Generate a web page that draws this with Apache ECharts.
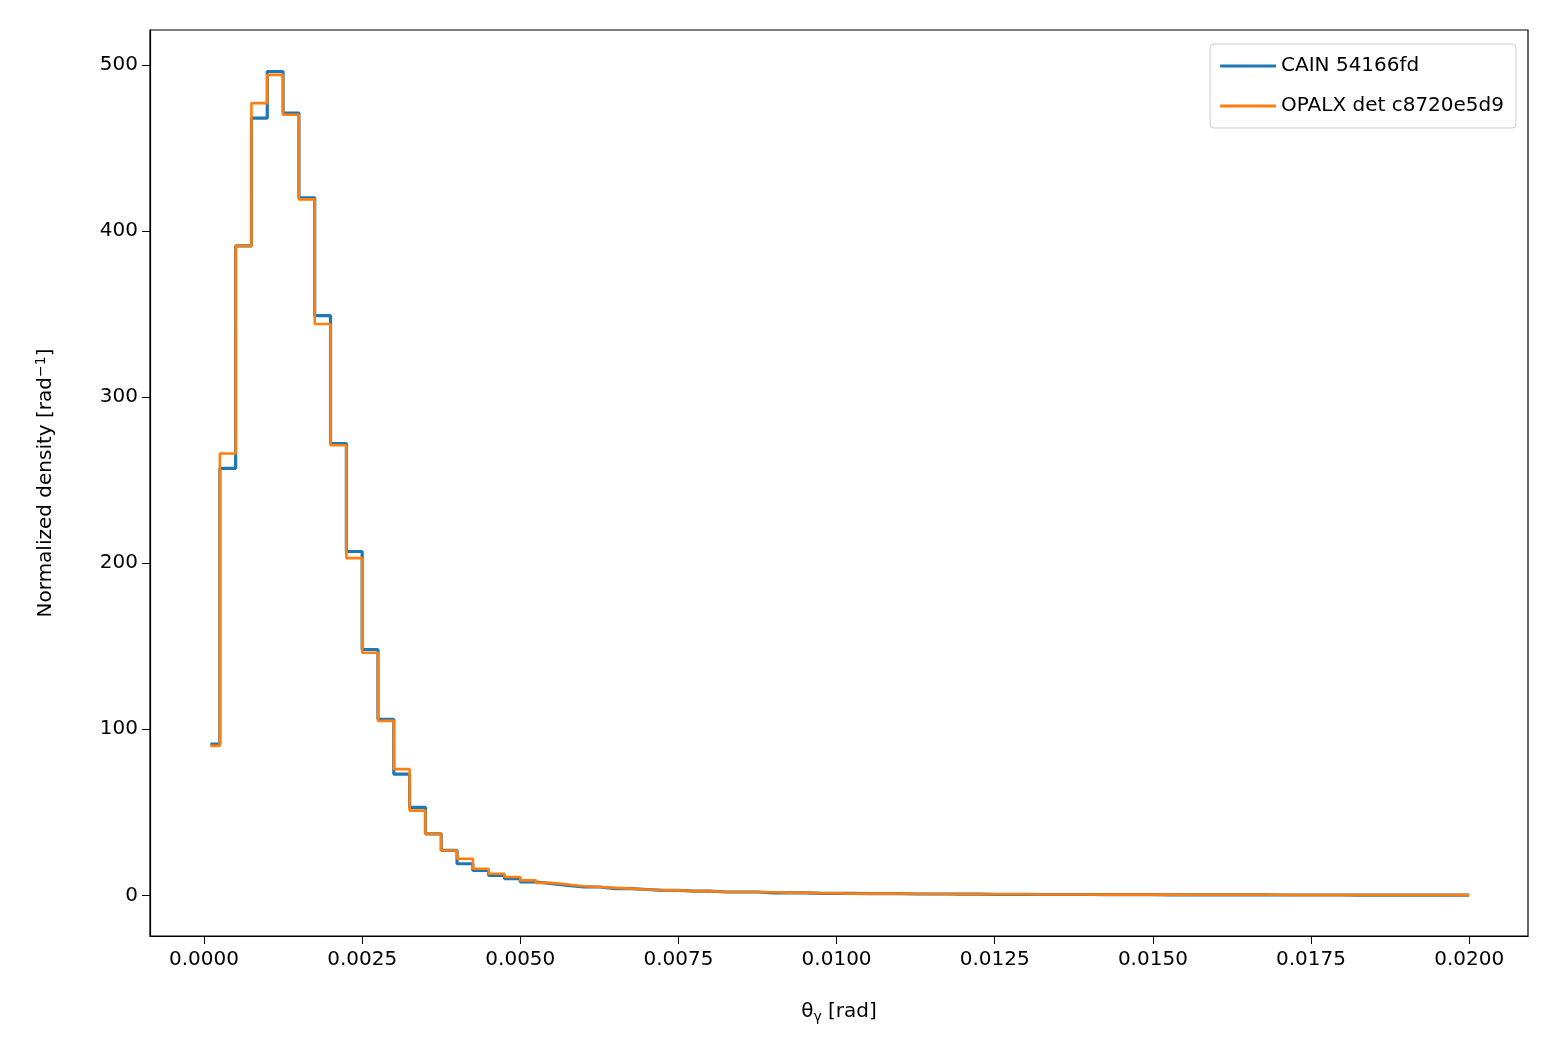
<!DOCTYPE html>
<html><head><meta charset="utf-8">
<script src="https://cdn.jsdelivr.net/npm/echarts@6/dist/echarts.min.js"></script>
<style>html,body{margin:0;padding:0;background:#fff}#c{width:1560px;height:1060px}</style>
</head><body><div id="c"></div>
<script>
const firstEdge = 0.0001;
const binWidth = 0.00025;
const cain = [91,257,391,468,496,471,420,349,272,207,148,106,73,53,37,27,19,15,12,10,8,7,6,5,5,4,4,3.5,3,3,2.5,2.5,2,2,2,1.5,1.5,1.5,1.2,1.2,1.2,1,1,1,0.8,0.8,0.8,0.7,0.7,0.6,0.6,0.6,0.5,0.5,0.5,0.5,0.4,0.4,0.4,0.4,0.3,0.3,0.3,0.3,0.3,0.3,0.3,0.2,0.2,0.2,0.2,0.2,0.1,0.2,0.1,0.1,0.1,0.1,0.1,0.1];
const opalx = [90,266,391,477,494,470,419,344,271,203,146,105,76,51,37,27,22,16,13,11,9,7.5,6.5,5.5,5,4.5,4,3.5,3,3,2.5,2.5,2,2,2,1.8,1.5,1.5,1.3,1.2,1,1,1,1,0.9,0.8,0.8,0.7,0.7,0.6,0.6,0.6,0.5,0.5,0.5,0.5,0.4,0.4,0.4,0.4,0.4,0.3,0.3,0.3,0.3,0.3,0.3,0.3,0.2,0.2,0.2,0.2,0.2,0.2,0.2,0.2,0.2,0.2,0.2,0.1];
const xTicks = [0,0.0025,0.005,0.0075,0.01,0.0125,0.015,0.0175,0.02];
const yTicks = [0,100,200,300,400,500];

function edges(i){ const l = i===0?firstEdge:i*binWidth; const r=(i+1)*binWidth; return [l,r]; }
function steps(vals){ const pts=[]; vals.forEach((v,i)=>{const [l,r]=edges(i); pts.push([l,v],[Math.min(r,0.02),v]);}); return pts; }

const font = 'DejaVu Sans';
const chart = echarts.init(document.getElementById('c'));
chart.setOption({
  animation:false,
  grid:{left:150,right:32,top:30,bottom:124,containLabel:false},
  legend:{top:44,right:44,orient:'vertical',itemWidth:56,itemHeight:3,itemGap:20,
    textStyle:{fontFamily:font,fontSize:20,color:'#000'},
    backgroundColor:'#fff',borderColor:'#ccc',borderWidth:1,borderRadius:4,padding:[12,12,12,10],
    icon:'rect',data:['CAIN 54166fd','OPALX det c8720e5d9']},
  xAxis:{type:'value',min:-0.000854,max:0.02093,
    axisLine:{onZero:false,lineStyle:{color:'#000',width:1.2}},
    splitLine:{show:false},
    axisTick:{customValues:xTicks,length:8,lineStyle:{color:'#000'}},
    axisLabel:{customValues:xTicks,formatter:v=>v.toFixed(4),fontFamily:font,fontSize:20,color:'#000',margin:14},
    name:'{t|θ}{s|γ}{t| [rad]}',nameLocation:'middle',nameGap:64,
    nameTextStyle:{rich:{t:{fontFamily:font,fontSize:20,color:'#000'},s:{fontFamily:font,fontSize:14,color:'#000',verticalAlign:'bottom',padding:[10,0,0,0]}}}},
  yAxis:{type:'value',min:-24.5,max:521,
    axisLine:{show:true,onZero:false,lineStyle:{color:'#000',width:1.2}},
    splitLine:{show:false},
    axisTick:{show:true,customValues:yTicks,length:8,lineStyle:{color:'#000'}},
    axisLabel:{customValues:yTicks,fontFamily:font,fontSize:20,color:'#000',margin:12},
    name:'{t|Normalized density [rad}{s|−1}{t|]}',nameLocation:'middle',nameGap:92,
    nameTextStyle:{rich:{t:{fontFamily:font,fontSize:20,color:'#000'},s:{fontFamily:font,fontSize:14,color:'#000',verticalAlign:'top',padding:[0,0,10,0]}}}},
  series:[
    {name:'CAIN 54166fd',type:'line',data:steps(cain),showSymbol:false,symbol:'none',lineStyle:{color:'#1f77b4',width:3.2},itemStyle:{color:'#1f77b4'}},
    {name:'OPALX det c8720e5d9',type:'line',data:steps(opalx),showSymbol:false,symbol:'none',lineStyle:{color:'#ff7f0e',width:2.6},itemStyle:{color:'#ff7f0e'}}
  ]
});
chart.setOption({graphic:[{type:'rect',shape:{x:150,y:30,width:1378,height:906},style:{fill:'none',stroke:'#000',lineWidth:1.2},silent:true}]});
</script></body></html>
